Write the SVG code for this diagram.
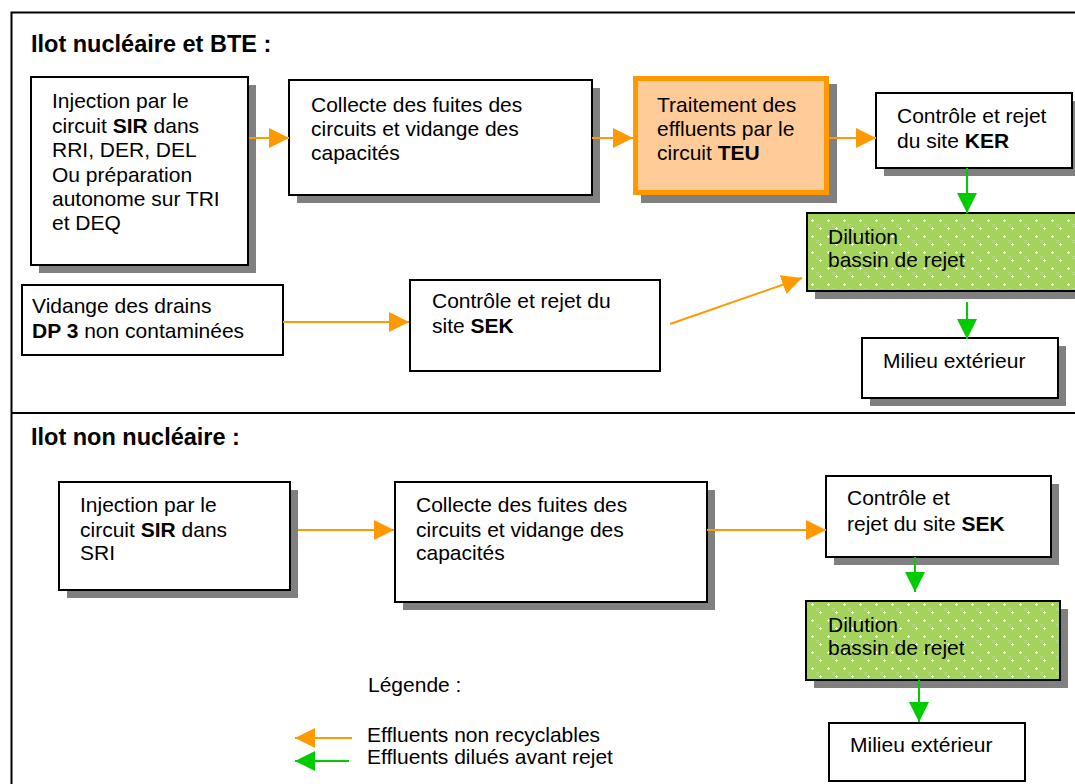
<svg xmlns="http://www.w3.org/2000/svg" width="1075" height="784" viewBox="0 0 1075 784">
<style>
text{font-family:"Liberation Sans",Arial,sans-serif;font-size:21px;fill:#000}
.title{font-weight:bold;font-size:23.5px}
.b{font-weight:bold}
.box{fill:#fff;stroke:#000;stroke-width:2}
.sh{fill:#808080}
.dil{fill:url(#dots);stroke:#000;stroke-width:2}
.or{stroke:#FF9900;stroke-width:2;fill:none}
.gr{stroke:#00CC00;stroke-width:2;fill:none}
</style>
<defs>
<pattern id="dots" patternUnits="userSpaceOnUse" width="16" height="16">
<rect width="16" height="16" fill="#A3D35A"/>
<rect x="0" y="0" width="1" height="1" fill="#BFE38C"/>
<rect x="2" y="2" width="1" height="1" fill="#BFE38C"/>
<rect x="0" y="2" width="1" height="1" fill="#BFE38C"/>
<rect x="2" y="0" width="1" height="1" fill="#BFE38C"/>
<path d="M4 3h1v3h-1zM3 4h3v1h-3z" fill="#fff"/>
<path d="M12 11h1v3h-1zM11 12h3v1h-3z" fill="#fff"/>
</pattern>
<marker id="ao" viewBox="0 0 20 20" refX="20" refY="10" markerWidth="20" markerHeight="20" markerUnits="userSpaceOnUse" orient="auto">
<path d="M0 0L20 10L0 20z" fill="#FF9900"/>
</marker>
<marker id="ag" viewBox="0 0 20 20" refX="20" refY="10" markerWidth="20" markerHeight="20" markerUnits="userSpaceOnUse" orient="auto">
<path d="M0 0L20 10L0 20z" fill="#00CC00"/>
</marker>
</defs>
<rect width="1075" height="784" fill="#fff"/>
<g id="frame">
<rect x="11.5" y="12.5" width="1080" height="790" fill="none" stroke="#000" stroke-width="2"/>
<line x1="11" y1="413" x2="1075" y2="413" stroke="#000" stroke-width="2"/>
<text class="title" x="31" y="52">Ilot nucléaire et BTE :</text>
<text class="title" x="31" y="445">Ilot non nucléaire :</text>
</g>
<g id="n1">
<rect class="sh" x="39" y="85" width="217" height="188"/>
<rect class="box" x="31" y="77" width="217" height="188"/>
<text x="52" y="108">Injection par le</text>
<text x="52" y="133">circuit <tspan class="b">SIR</tspan> dans</text>
<text x="52" y="157">RRI, DER, DEL</text>
<text x="52" y="182">Ou préparation</text>
<text x="52" y="206">autonome sur TRI</text>
<text x="52" y="230">et DEQ</text>
</g>
<g id="n2">
<rect class="sh" x="297" y="88" width="303" height="115"/>
<rect class="box" x="289" y="80" width="303" height="115"/>
<text x="311" y="112">Collecte des fuites des</text>
<text x="311" y="136">circuits et vidange des</text>
<text x="311" y="160">capacités</text>
</g>
<g id="n3">
<rect class="sh" x="641" y="84" width="196" height="119"/>
<rect x="635.5" y="78.5" width="191" height="114" fill="#FFCC99" stroke="#FF9900" stroke-width="5"/>
<text x="657" y="112">Traitement des</text>
<text x="657" y="136">effluents par le</text>
<text x="657" y="160">circuit <tspan class="b">TEU</tspan></text>
</g>
<g id="n4">
<rect class="sh" x="884" y="101" width="196" height="75"/>
<rect class="box" x="876" y="93" width="196" height="75"/>
<text x="897" y="123">Contrôle et rejet</text>
<text x="897" y="148">du site <tspan class="b">KER</tspan></text>
</g>
<g id="n5">
<rect class="sh" x="815" y="221" width="270" height="78"/>
<rect class="dil" x="807" y="213" width="275" height="78"/>
<text x="828" y="244">Dilution</text>
<text x="828" y="267">bassin de rejet</text>
</g>
<g id="n6">
<rect class="sh" x="870" y="346" width="196" height="60"/>
<rect class="box" x="862" y="338" width="196" height="60"/>
<text x="883" y="368">Milieu extérieur</text>
</g>
<g id="n7">
<rect class="box" x="22" y="285" width="261" height="70"/>
<text x="32" y="313">Vidange des drains</text>
<text x="32" y="338"><tspan class="b">DP 3</tspan> non contaminées</text>
</g>
<g id="n8">
<rect class="box" x="410" y="280" width="250" height="91"/>
<text x="432" y="308">Contrôle et rejet du</text>
<text x="432" y="333">site <tspan class="b">SEK</tspan></text>
</g>
<g id="n9">
<rect class="sh" x="67" y="490" width="231" height="108"/>
<rect class="box" x="59" y="482" width="231" height="108"/>
<text x="80" y="512">Injection par le</text>
<text x="80" y="537">circuit <tspan class="b">SIR</tspan> dans</text>
<text x="80" y="560">SRI</text>
</g>
<g id="n10">
<rect class="sh" x="403" y="490" width="312" height="120"/>
<rect class="box" x="395" y="482" width="312" height="120"/>
<text x="416" y="512">Collecte des fuites des</text>
<text x="416" y="537">circuits et vidange des</text>
<text x="416" y="560">capacités</text>
</g>
<g id="n11">
<rect class="sh" x="834" y="484" width="225" height="81"/>
<rect class="box" x="826" y="476" width="225" height="81"/>
<text x="847" y="505">Contrôle et</text>
<text x="847" y="531">rejet du site <tspan class="b">SEK</tspan></text>
</g>
<g id="n12">
<rect class="sh" x="814" y="609" width="254" height="79"/>
<rect class="dil" x="806" y="601" width="254" height="79"/>
<text x="828" y="632">Dilution</text>
<text x="828" y="655">bassin de rejet</text>
</g>
<g id="n13">
<rect class="box" x="829" y="723" width="196" height="58"/>
<text x="850" y="752">Milieu extérieur</text>
</g>
<g id="legend">
<text x="368" y="692">Légende :</text>
<text x="367" y="742">Effluents non recyclables</text>
<text x="367" y="764">Effluents dilués avant rejet</text>
</g>
<g id="connectors">
<line class="or" x1="249" y1="138" x2="289" y2="138" marker-end="url(#ao)"/>
<line class="or" x1="592" y1="138" x2="633" y2="138" marker-end="url(#ao)"/>
<line class="or" x1="829" y1="138" x2="876" y2="138" marker-end="url(#ao)"/>
<line class="gr" x1="967" y1="168" x2="967" y2="213" marker-end="url(#ag)"/>
<line class="gr" x1="967" y1="302" x2="967" y2="339" marker-end="url(#ag)"/>
<line class="or" x1="283" y1="322" x2="409" y2="322" marker-end="url(#ao)"/>
<line class="or" x1="670" y1="324" x2="802" y2="278" marker-end="url(#ao)"/>
<line class="or" x1="298" y1="530" x2="394" y2="530" marker-end="url(#ao)"/>
<line class="or" x1="707" y1="530" x2="826" y2="530" marker-end="url(#ao)"/>
<line class="gr" x1="915" y1="557" x2="915" y2="592" marker-end="url(#ag)"/>
<line class="gr" x1="919" y1="680" x2="919" y2="722" marker-end="url(#ag)"/>
<line class="or" x1="352" y1="738" x2="295" y2="738" marker-end="url(#ao)"/>
<line class="gr" x1="349" y1="761" x2="295" y2="761" marker-end="url(#ag)"/>
</g>
</svg>
